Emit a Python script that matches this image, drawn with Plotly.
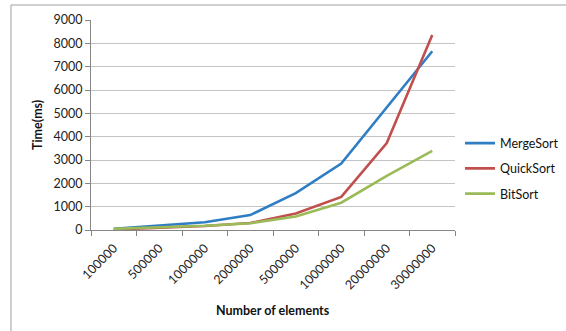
import plotly.graph_objects as go

categories = ["100000", "500000", "1000000", "2000000", "5000000", "10000000", "20000000", "30000000"]
merge_sort = [50, 200, 330, 640, 1580, 2850, 5270, 7660]
quick_sort = [20, 80, 170, 300, 710, 1420, 3730, 8360]
bit_sort = [50, 110, 180, 290, 580, 1170, 2320, 3390]

series = [("MergeSort", merge_sort, "#2f7ec4"),
          ("QuickSort", quick_sort, "#c0504d"),
          ("BitSort", bit_sort, "#9bbb59")]

fig = go.Figure()
for name, vals, col in series:
    fig.add_trace(go.Scatter(x=categories, y=vals, name=name, mode="lines", legendgroup=name,
                             line=dict(color=col, width=2.6)))

L, R, T, B = 91, 455, 20, 230
W, H = R - L, B - T

def px(x):
    return (x - L) / W

def py(y):
    return (B - y) / H

font_family = "Lato, 'Liberation Sans', sans-serif"
fig.update_layout(
    width=566, height=331,
    margin=dict(l=L, r=566 - R, t=T, b=331 - B, autoexpand=False),
    paper_bgcolor="white", plot_bgcolor="white",
    font=dict(family=font_family, size=12, color="#222"),
    showlegend=True,
    legend=dict(x=px(460), y=py(168.5), xanchor="left", yanchor="middle",
                font=dict(size=12.5, color="#111"), tracegroupgap=6,
                itemwidth=30, bgcolor="rgba(0,0,0,0)"),
    xaxis=dict(type="category", tickangle=-45, showgrid=False, automargin=False,
               showline=True, linecolor="#868686", linewidth=1,
               ticks="outside", tickson="boundaries", ticklen=5, tickcolor="#868686",
               tickfont=dict(size=12.5, color="#222"),
               ticklabelstandoff=5, ticklabelshift=0,
               range=[-0.5, 7.5]),
    yaxis=dict(range=[0, 9000], dtick=1000, showgrid=True, gridcolor="#c4c4c4", gridwidth=1,
               automargin=False,
               showline=True, linecolor="#868686", linewidth=1,
               ticks="outside", ticklen=5, tickcolor="#868686",
               tickfont=dict(size=12.5, color="#222"), zeroline=False),
    annotations=[
        dict(text="<b>Time(ms)</b>", xref="paper", yref="paper", x=px(37), y=py(125),
             textangle=-90, showarrow=False, font=dict(size=12.5, color="#111"),
             xanchor="center", yanchor="middle"),
        dict(text="<b>Number of elements</b>", xref="paper", yref="paper", x=px(273), y=py(310),
             showarrow=False, font=dict(size=12.5, color="#111"),
             xanchor="center", yanchor="middle"),
    ],
)

# chart border (left and top)
fig.add_shape(type="line", xref="paper", yref="paper", x0=px(11), x1=px(11),
              y0=py(5), y1=py(340), line=dict(color="#a0a0a0", width=1))
fig.add_shape(type="line", xref="paper", yref="paper", x0=px(11), x1=px(570),
              y0=py(5), y1=py(5), line=dict(color="#a0a0a0", width=1))

fig.write_html("out.html", config={"displayModeBar": False},
               post_script="document.body.style.margin='0';document.body.style.padding='0';")
